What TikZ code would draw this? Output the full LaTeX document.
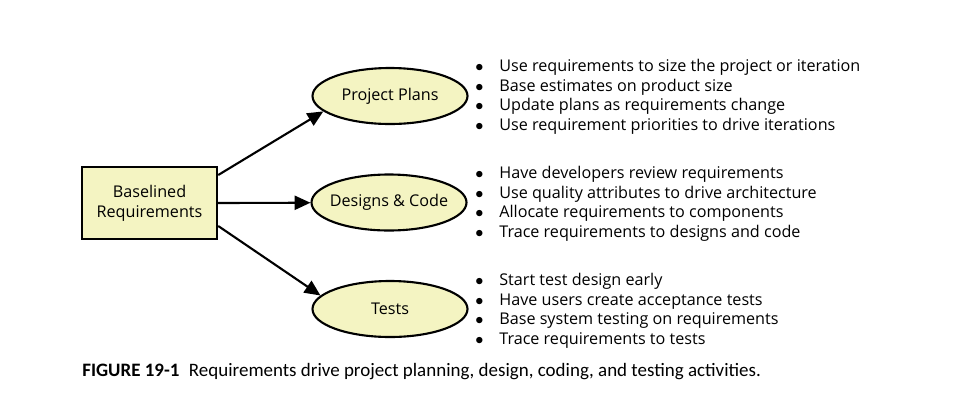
\documentclass[tikz,border=0pt]{standalone}
\usepackage{fontspec}
\setmainfont{Open Sans}
\newfontfamily\capfont{Carlito}
\usetikzlibrary{shapes.geometric,arrows.meta}
\definecolor{reqfill}{HTML}{F4F4C2}
\newcommand\bul{\makebox[0.48cm][l]{$\bullet$}}
\tikzset{
	reqbox/.style={draw=black,line width=1.4pt,fill=reqfill,minimum width=135*0.02cm,minimum height=72*0.02cm,align=center,font=\fontsize{9.2}{11.3}\selectfont},
	usebubble/.style={ellipse,draw=black,line width=1.2pt,fill=reqfill,minimum width=155*0.02cm,minimum height=56*0.02cm,inner ysep=0pt,inner xsep=-8mm,font=\fontsize{9.2}{11}\selectfont},
	flow/.style={line width=1.2pt,-{Triangle[length=9pt,width=8pt]}},
	notes/.style={anchor=north west,align=left,inner sep=0pt,font=\fontsize{9.2}{11.15}\selectfont}
}
\begin{document}
\begin{tikzpicture}[x=0.02cm,y=-0.02cm]
\useasboundingbox (0,0) rectangle (966,410);
\node[reqbox] (base) at (149.5,203) {Baselined\\Requirements};
\node[usebubble] (plans) at (390,96) {Project Plans};
\node[usebubble] (design) at (389,202.5) {Designs \& Code};
\node[usebubble] (tests) at (390,309) {Tests};
\draw [flow] (base.east |- 0,175) -- (plans.193);
\draw [flow] (base.east) -- (design);
\draw [flow] (base.east |- 0,226) -- (tests.169);
\node[notes] (plansnotes) at (475,59) {%
	\bul Use requirements to size the project or iteration\\
	\bul Base estimates on product size\\
	\bul Update plans as requirements change\\
	\bul Use requirement priorities to drive iterations};
\node[notes] (designnotes) at (475,166) {%
	\bul Have developers review requirements\\
	\bul Use quality attributes to drive architecture\\
	\bul Allocate requirements to components\\
	\bul Trace requirements to designs and code};
\node[notes] (testnotes) at (475,273) {%
	\bul Start test design early\\
	\bul Have users create acceptance tests\\
	\bul Base system testing on requirements\\
	\bul Trace requirements to tests};
\node[anchor=west,inner sep=0pt,font=\capfont\fontsize{10.8}{13}\selectfont] (caption) at (82,372)
	{\textbf{FIGURE 19-1}\hspace{0.5em}Requirements drive project planning, design, coding, and testing activities.};
\end{tikzpicture}
\end{document}
